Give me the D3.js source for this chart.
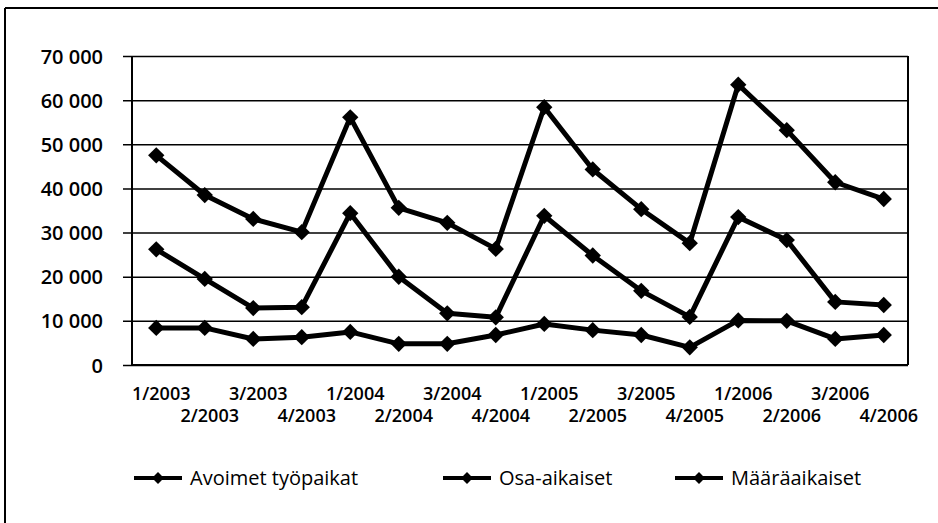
<!DOCTYPE html>
<html>
<head>
<meta charset="utf-8">
<script src="https://cdn.jsdelivr.net/npm/d3@7"></script>
<style>
  body { margin: 0; background: #fff; }
  svg text { font-family: "Open Sans", sans-serif; fill: #000; }
  .ylab { font-size: 20px; font-weight: 600; }
  .xlab { font-size: 18px; font-weight: 600; }
  .leg { font-size: 20px; }
</style>
</head>
<body>
<script>
// quarters on the x axis
var quarters = ["1/2003", "2/2003", "3/2003", "4/2003",
                "1/2004", "2/2004", "3/2004", "4/2004",
                "1/2005", "2/2005", "3/2005", "4/2005",
                "1/2006", "2/2006", "3/2006", "4/2006"];

var seriesNames = ["Avoimet työpaikat", "Osa-aikaiset", "Määräaikaiset"];

var avoimet = [47500, 38500, 33100, 30100, 56100, 35600, 32200, 26300,
               58400, 44300, 35300, 27600, 63500, 53200, 41400, 37600];
var osaAikaiset = [26200, 19500, 12900, 13100, 34400, 20000, 11700, 10800,
                   33800, 24800, 16800, 10900, 33500, 28300, 14300, 13600];
var maaraaikaiset = [8400, 8400, 5900, 6300, 7500, 4800, 4800, 6800,
                     9300, 7900, 6800, 4000, 10100, 10000, 5900, 6800];

var yTicks = [0, 10000, 20000, 30000, 40000, 50000, 60000, 70000];

var W = 938, H = 523;
var margin = {top: 56, right: 30, bottom: 158, left: 132};
var width = W - margin.left - margin.right;
var height = H - margin.top - margin.bottom;

var svg = d3.select("body").append("svg")
    .attr("width", W)
    .attr("height", H);

// outer frame (only top and left visible in the scan)
svg.append("line").attr("x1", 5).attr("x2", W).attr("y1", 8).attr("y2", 8)
    .attr("stroke", "#000").attr("stroke-width", 2);
svg.append("line").attr("x1", 5).attr("x2", 5).attr("y1", 8).attr("y2", H)
    .attr("stroke", "#000").attr("stroke-width", 2);

var g = svg.append("g")
    .attr("transform", "translate(" + margin.left + "," + margin.top + ")");

var xScale = d3.scaleBand()
    .domain(quarters)
    .range([0, width]);

var yScale = d3.scaleLinear()
    .domain([0, 70000])
    .range([height, 0]);

var fmt = function(d) { return d3.format(",")(d).replace(/,/g, " "); };

// gridlines + y labels
var yAxis = d3.axisLeft(yScale)
    .tickValues(yTicks)
    .tickSize(-width)
    .tickPadding(29)
    .tickFormat(fmt);

var yg = g.append("g").call(yAxis);
yg.select(".domain").remove();
yg.selectAll(".tick line")
    .attr("x1", -9)
    .attr("stroke", "#000")
    .attr("stroke-width", 1.5);
yg.selectAll(".tick text").attr("class", "ylab").attr("dy", "0.35em");

// plot border left / right / bottom
g.append("line").attr("x1", 0).attr("x2", 0).attr("y1", 0).attr("y2", height)
    .attr("stroke", "#000").attr("stroke-width", 2);
g.append("line").attr("x1", width).attr("x2", width).attr("y1", 0).attr("y2", height)
    .attr("stroke", "#000").attr("stroke-width", 2);
g.append("line").attr("x1", 0).attr("x2", width).attr("y1", height).attr("y2", height)
    .attr("stroke", "#000").attr("stroke-width", 2);

// x labels, staggered on two rows
g.selectAll(".xlab")
    .data(quarters)
    .enter()
    .append("text")
    .attr("class", "xlab")
    .attr("x", function(d) { return xScale(d) + xScale.bandwidth() / 2 + 5; })
    .attr("y", function(d, i) { return height + (i % 2 === 0 ? 35 : 57); })
    .attr("text-anchor", "middle")
    .text(function(d) { return d; });

var allSeries = [avoimet, osaAikaiset, maaraaikaiset];

var line = d3.line()
    .x(function(d, i) { return xScale(quarters[i]) + xScale.bandwidth() / 2; })
    .y(function(d) { return yScale(d); });

var diamond = d3.symbol().type(d3.symbolDiamond2).size(170);

allSeries.forEach(function(s) {
    g.append("path")
        .datum(s)
        .attr("fill", "none")
        .attr("stroke", "#000")
        .attr("stroke-width", 5)
        .attr("stroke-linejoin", "round")
        .attr("d", line);

    g.selectAll(null)
        .data(s)
        .enter()
        .append("path")
        .attr("d", diamond)
        .attr("transform", function(d, i) {
            return "translate(" + (xScale(quarters[i]) + xScale.bandwidth() / 2) + "," + yScale(d) + ")";
        })
        .attr("fill", "#000");
});

// legend
var legX = [134, 443, 675];
var legend = svg.selectAll(".legend")
    .data(seriesNames)
    .enter()
    .append("g")
    .attr("class", "legend")
    .attr("transform", function(d, i) { return "translate(" + legX[i] + ",478)"; });

legend.append("line")
    .attr("x1", 0).attr("x2", 48)
    .attr("stroke", "#000").attr("stroke-width", 4);
legend.append("path")
    .attr("d", d3.symbol().type(d3.symbolDiamond2).size(90))
    .attr("transform", "translate(24,0)")
    .attr("fill", "#000");
legend.append("text")
    .attr("class", "leg")
    .attr("x", 56)
    .attr("dy", "0.35em")
    .text(function(d) { return d; });
</script>
</body>
</html>
